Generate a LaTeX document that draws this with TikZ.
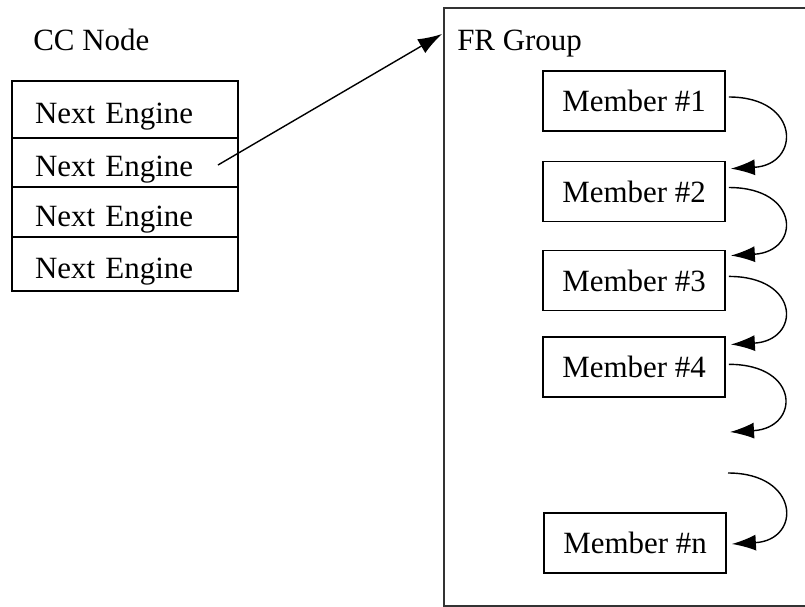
\documentclass[tikz,border=0pt]{standalone}
\usepackage{fontspec}
\setmainfont{Liberation Serif}
\usetikzlibrary{positioning, arrows.meta, calc}

\begin{document}
\begin{tikzpicture}[
    x=0.025cm, y=-0.025cm,
    every node/.style={font=\fontsize{22}{26}\selectfont},
    engrow/.style={draw, line width=1.2pt, text width=4.5cm, inner xsep=0.575cm, inner ysep=0pt, outer sep=0pt, align=left, text height=0.7cm, text depth=0pt},
    member/.style={draw, line width=1.2pt, minimum width=4.55cm, minimum height=1.5cm, inner sep=0pt},
    grpbox/.style={draw, line width=1.4pt, black!80, minimum width=10cm, minimum height=14.95cm, anchor=north west, inner sep=0pt, outer sep=0pt},
    arr/.style={-{Latex[length=0.6cm, width=0.4cm]}, line width=1pt},
    lbl/.style={anchor=base west, inner sep=0pt}
]
    \useasboundingbox (0,0) rectangle (805,607);

    % CC node and its engine table
    \node[lbl] (cclabel) at (33,50) {CC Node};
    \node[engrow, minimum height=1.425cm, anchor=north west] (eng1) at (12,81) {Next Engine};
    \node[engrow, minimum height=1.225cm, below=0pt of eng1] (eng2) {Next Engine};
    \node[engrow, minimum height=1.25cm, below=0pt of eng2] (eng3) {Next Engine};
    \node[engrow, minimum height=1.35cm, below=0pt of eng3] (eng4) {Next Engine};

    % FR group with its members
    \node[grpbox] (frgroup) at (444,8) {};
    \node[lbl] (frlabel) at (457,50) {FR Group};
    \node[member] (mem1) at (634,101) {Member \#1};
    \node[member, below=0.72cm of mem1] (mem2) {Member \#2};
    \node[member, below=0.68cm of mem2] (mem3) {Member \#3};
    \node[member, below=0.63cm of mem3] (mem4) {Member \#4};
    \node[member] (memn) at (635,543) {Member \#n};

    \coordinate (ptr) at (218,165);
    \coordinate (gapend) at (730,432);
    \coordinate (gapstart) at (728,473);

    \draw[arr] (ptr) -- ($(frgroup.north west)+(-2,26)$);

    \draw[arr] ($(mem1.east)+(3,-4)$) .. controls +(72,0) and +(70,-4) .. ($(mem2.north east)+(5,8)$);
    \draw[arr] ($(mem2.east)+(3,-4)$) .. controls +(72,0) and +(70,-4) .. ($(mem3.north east)+(5,6)$);
    \draw[arr] ($(mem3.east)+(3,-4)$) .. controls +(72,0) and +(70,-4) .. ($(mem4.north east)+(5,8)$);
    \draw[arr] ($(mem4.east)+(3,-3)$) .. controls +(72,0) and +(70,-4) .. (gapend);
    \draw[arr] (gapstart) .. controls +(72,0) and +(70,-4) .. ($(memn.east)+(5,1)$);
\end{tikzpicture}
\end{document}
